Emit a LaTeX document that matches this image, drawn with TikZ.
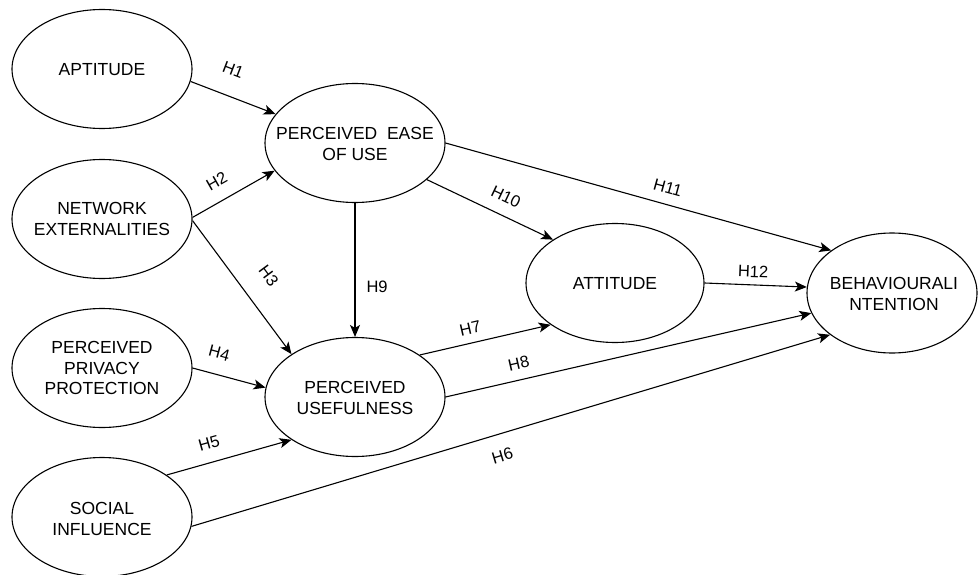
\documentclass[tikz,border=0pt]{standalone}
\usepackage{fontspec}
\setmainfont{Liberation Sans}
\usetikzlibrary{arrows.meta,shapes.geometric}
\begin{document}
\begin{tikzpicture}[x=1pt,y=-1pt,
  ell/.style={ellipse, draw, line width=1.1pt, minimum width=180pt, minimum height=119pt, inner sep=0pt},
  txt/.style={font=\fontsize{17.5}{20.5}\selectfont, align=center, inner sep=0pt},
  conn/.style={line width=1.1pt, -{Stealth[length=12pt,width=10pt,inset=3pt]}},
  lblbase/.style={font=\fontsize{16.5}{18}\selectfont, inner sep=0pt, text height=12pt, text depth=0pt},
  lbl/.style={lblbase, sloped}]
\useasboundingbox (0,0) rectangle (979,575);

% ellipses
\node[ell] (apt) at (102,69) {};
\node[txt] (aptT) at (102,70) {APTITUDE};
\node[ell] (net) at (102,219) {};
\node[txt] (netT) at (102,219) {NETWORK\\EXTERNALITIES};
\node[ell] (ppp) at (102,368) {};
\node[txt] (pppT) at (102,368) {PERCEIVED\\PRIVACY\\PROTECTION};
\node[ell] (soc) at (102,517) {};
\node[txt] (socT) at (102,519) {SOCIAL\\INFLUENCE};
\node[ell] (peou) at (355,143) {};
\node[txt] (peouT) at (355,144) {PERCEIVED\ \ EASE\\OF USE};
\node[ell] (pu) at (355,397) {};
\node[txt] (puT) at (355,398) {PERCEIVED\\USEFULNESS};
\node[ell, minimum width=178pt] (att) at (615,283) {};
\node[txt] (attT) at (615,284) {ATTITUDE};
\node[ell, minimum width=170pt, minimum height=120pt] (bi) at (892,293) {};
\node[txt] (biT) at (894,294) {BEHAVIOURALI\\NTENTION};

% connectors
\draw[conn] (apt.-8.9) -- (peou.160.3) node[lbl, pos=0.39, above=20pt] {H1};
\draw[conn] (net.1.3) -- (peou.199.3) node[lbl, pos=0.41, above=13pt] {H2};
\draw[conn] (net.-1.9) -- (pu.146.5) node[lbl, pos=0.54, above=22pt] {H3};
\draw[conn] (ppp.0) -- (pu.174.5) node[lbl, pos=0.29, above=15pt] {H4};
\draw[conn] (soc.33.5) -- (pu.214.7) node[lbl, pos=0.38, above=13pt] {H5};
\draw[conn] (soc.-6.9) -- (bi.214.1) node[lbl, pos=0.477, below=15pt] {H6};
\draw[conn] (pu.33.5) -- (att.213.5) node[lbl, pos=0.41, above=8pt] {H7};
\draw[conn] (pu.0) -- (bi.194.8) node[lbl, pos=0.21, above=10pt] {H8};
\draw[conn] (peou.south) -- (pu.north) node[lblbase, pos=0.62, right=11pt] {H9};
\draw[conn] (peou.-27.8) -- (att.145.9) node[lbl, pos=0.565, above=12pt] {H10};
\draw[conn] (peou.-0.6) -- (bi.145.9) node[lbl, pos=0.565, above=10pt] {H11};
\draw[conn] (att.0) -- (bi.176) node[lbl, pos=0.47, above=7pt] {H12};
\end{tikzpicture}
\end{document}
